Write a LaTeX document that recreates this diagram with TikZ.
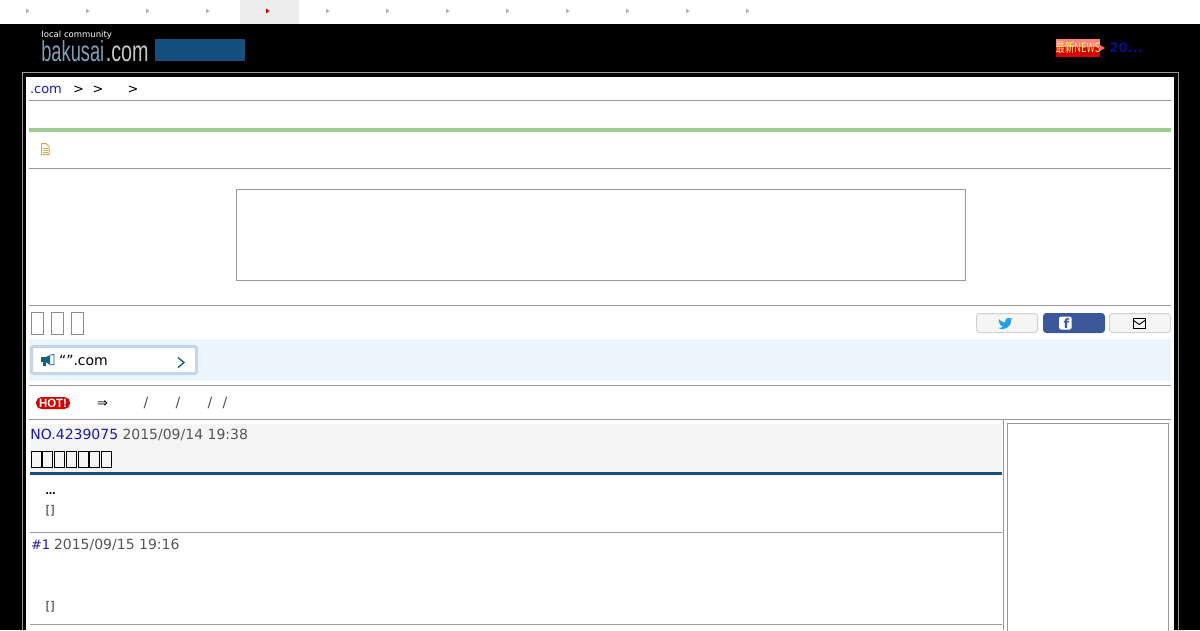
\documentclass[tikz,border=0pt]{standalone}
\usepackage{fontspec}
\setmainfont{DejaVu Sans}
\newfontfamily\logofont{Liberation Sans}
\newfontfamily\jpfont{Noto Sans CJK JP}
\definecolor{linkblue}{HTML}{1A1AA6}
\definecolor{newsblue}{HTML}{0A0A8C}
\definecolor{datetext}{HTML}{555555}
\definecolor{rulegray}{HTML}{999999}
\definecolor{navyband}{HTML}{154F7D}
\definecolor{paleband}{HTML}{EDF5FC}
\definecolor{noticeedge}{HTML}{C2D6E6}
\definecolor{tealicon}{HTML}{17607F}
\definecolor{fbblue}{HTML}{3B5998}
\definecolor{twblue}{HTML}{1DA1F2}
\definecolor{greenbar}{HTML}{9CCB8F}
\definecolor{fileicon}{HTML}{D4A94A}
\newcommand{\px}[1]{\fontsize{#1}{#1}\selectfont}
\begin{document}
\begin{tikzpicture}[x=1pt, y=-1pt, line width=1pt,
    txt/.style={inner sep=0, anchor=base west, font=\px{14}},
    rulelines/.style={draw=rulegray},
    tofu/.style={draw=#1},
    sharebtn/.style={draw=#1, rounded corners=3pt, line width=1pt}]
    \useasboundingbox (0, 0) rectangle (1200, 630);
    \clip (0, 0) rectangle (1200, 630);
    \fill[black] (0, 24) rectangle (1200, 630);
    \fill[white] (0, 0) rectangle (1200, 24);
    \fill[black!7] (240, 0) rectangle (299, 24);
    \foreach \i in {0, ..., 12} {
        \fill[black!30] ({26+60*\i}, 8.5) -- ({29.5+60*\i}, 11) -- ({26+60*\i}, 13.5) -- cycle;
    }
    \fill[red!85!black] (266, 8.5) -- (269.5, 11) -- (266, 13.5) -- cycle;
    \node[txt, text=white, font=\px{8.5}] (local) at (41, 37) {local community};
    \node[txt, text=navyband!55!white, font=\logofont\px{29}, xscale=0.63] (baku) at (41, 61) {bakusai};
    \node[txt, text=black!22, font=\logofont\px{29}, xscale=0.68] (dotcom) at (105.5, 61) {.com};
    \fill[navyband] (155, 39) rectangle (245, 61);
    \fill[red!85!black] (1055.5, 38.5) rectangle (1100, 57);
    \fill[red!50!white] (1055.5, 38.5) rectangle (1100, 47);
    \fill[red!60!white] (1100, 45) -- (1105, 48) -- (1100, 51) -- cycle;
    \node[inner sep=0, text=yellow!60!white, font=\jpfont\px{13}, xscale=0.72] (news) at (1078, 48) {最新NEWS};
    \node[txt, text=newsblue, font=\bfseries\px{13}] (newstxt) at (1109, 52) {20...};
    \draw[rulegray] (22, 72.5) rectangle (1178, 640);
    \fill[white] (26, 77) rectangle (1174, 630);
    \node[txt, text=linkblue, font=\px{13}] (home) at (29.5, 93) {.com};
    \node[txt, font=\px{13}] (gt1) at (72.5, 93) {>};
    \node[txt, font=\px{13}] (gt2) at (92, 93) {>};
    \node[txt, font=\px{13}] (gt3) at (127, 93) {>};
    \draw[rulelines] (29, 100.5) -- (1171, 100.5);
    \fill[greenbar] (29, 128) rectangle (1171, 132);
    \draw[draw=fileicon, line width=1pt] (41.5, 143.5) -- (46, 143.5) -- (49, 146.5) -- (49, 154.5) -- (41.5, 154.5) -- cycle;
    \draw[draw=fileicon, line width=0.7pt] (43, 148.5) -- (47.5, 148.5) (43, 150.5) -- (47.5, 150.5) (43, 152.5) -- (47.5, 152.5);
    \draw[rulelines] (29, 168.5) -- (1171, 168.5);
    \draw[rulelines] (236.5, 189.5) rectangle (965.5, 280.5);
    \draw[rulelines] (29, 305.5) -- (1171, 305.5);
    \foreach \x in {31.5, 51.5, 71.5} {
        \draw[tofu=black!45] (\x, 312.5) rectangle ++(11.5, 22);
    }
    \draw[sharebtn=black!18, fill=black!4] (976.5, 313.5) rectangle (1037.5, 332.5);
    \draw[sharebtn=fbblue, fill=fbblue] (1043.5, 313.5) rectangle (1104.5, 332.5);
    \draw[sharebtn=black!18, fill=black!4] (1109.5, 313.5) rectangle (1170.5, 332.5);
    \fill[twblue] (999, 319) .. controls (1001, 322) and (1003, 322) .. (1005, 322.5) .. controls (1005, 319) and (1008, 316.5) .. (1010, 318.5) -- (1012, 318) -- (1011, 320) -- (1011, 321.5) .. controls (1011, 326) and (1005, 331.5) .. (998.5, 328) .. controls (1001, 328) and (1002, 327.5) .. (1003, 326.5) .. controls (1001, 326) and (1000, 325) .. (1000, 324) .. controls (999.5, 323) and (998, 321) .. (999, 319) -- cycle;
    \fill[white, rounded corners=1.5pt] (1059, 316.5) rectangle (1071.5, 329.5);
    \node[inner sep=0, text=fbblue, font=\bfseries\px{13}] (fbf) at (1066.5, 323.5) {f};
    \draw[line width=0.9pt] (1133, 318) rectangle (1145.5, 328);
    \draw[line width=0.9pt] (1133, 320) -- (1139.25, 324.5) -- (1145.5, 320);
    \fill[paleband] (29, 339) rectangle (1171, 381);
    \draw[draw=noticeedge, fill=white, line width=3pt, rounded corners=1.5pt] (31.5, 346.5) rectangle (196.5, 373.5);
    \fill[tealicon] (41, 357) -- (46, 357) -- (50, 355) -- (50, 365) -- (46, 362) -- (46, 366) -- (43, 366) -- (43, 362) -- (41, 362) -- cycle;
    \draw[tealicon, line width=0.8pt] (50, 355) -- (54, 354.5) -- (54, 364.5) -- (50, 365);
    \node[txt] (notice) at (58.5, 365) {“”.com};
    \draw[tealicon, line width=1.4pt] (178, 357.5) -- (184, 362.5) -- (178, 367.5);
    \draw[rulelines] (29, 385.5) -- (1171, 385.5);
    \fill[red!85!black, rounded corners=5.5pt] (36, 397) rectangle (70, 409);
    \node[inner sep=0, text=white, font=\logofont\bfseries\px{12}, xscale=0.95] (hot) at (53, 403) {HOT!};
    \node[txt, font=\px{13}] (arrowr) at (96.5, 407) {⇒};
    \foreach \x/\n in {143/s1, 175/s2, 207/s3, 222/s4} {
        \node[txt, text=black!70] (\n) at (\x, 407) {/};
    }
    \draw[rulelines] (29, 419.5) -- (1171, 419.5);
    \fill[black!4] (30, 424) rectangle (1002, 472);
    \draw[rulelines] (1003.5, 420) -- (1003.5, 630);
    \draw[rulelines] (1007.5, 423.5) rectangle (1168.5, 640);
    \node[txt, text=linkblue] (threadno) at (30, 439) {NO.4239075};
    \node[txt, text=datetext] (threaddate) at (122, 439) {2015/09/14 19:38};
    \foreach \i in {0, ..., 6} {
        \draw[tofu=black, line width=0.9pt] ({31+11.75*\i}, 451.5) rectangle ++(10, 16);
    }
    \fill[navyband] (30, 472) rectangle (1002, 475);
    \node[txt, font=\bfseries\px{10}] (dots) at (45, 494) {…};
    \node[txt, font=\px{12}, text=black!80] (brk1) at (45, 514) {[]};
    \draw[rulelines] (30, 532.5) -- (1002, 532.5);
    \node[txt, text=linkblue, font=\px{13}] (resno) at (30.5, 549) {\#1};
    \node[txt, text=datetext] (resdate) at (53.5, 549) {2015/09/15 19:16};
    \node[txt, font=\px{12}, text=black!80] (brk2) at (45, 610) {[]};
    \draw[rulelines] (30, 624.5) -- (1002, 624.5);
\end{tikzpicture}
\end{document}
